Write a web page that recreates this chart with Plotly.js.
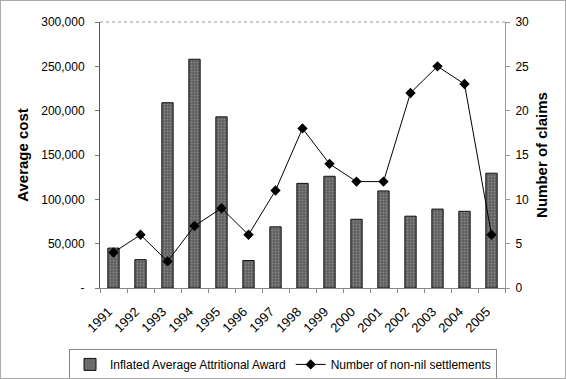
<!DOCTYPE html>
<html>
<head>
<meta charset="utf-8">
<script src="https://cdn.plot.ly/plotly-3.0.1.min.js"></script>
<style>
html,body{margin:0;padding:0;background:#fff;}
#chart{width:564px;height:377px;border:1px solid #aaa;}
</style>
</head>
<body>
<div id="chart"></div>
<script>
var years = ["1991","1992","1993","1994","1995","1996","1997","1998","1999","2000","2001","2002","2003","2004","2005"];
var avgAward = [45000, 32000, 209000, 258000, 193000, 31000, 69000, 118000, 126000, 77500, 109500, 81000, 89000, 86500, 129500];
var settlements = [4, 6, 3, 7, 9, 6, 11, 18, 14, 12, 12, 22, 25, 23, 6];
var leftTickVals = [0, 50000, 100000, 150000, 200000, 250000, 300000];
var leftTickText = ["-", "50,000", "100,000", "150,000", "200,000", "250,000", "300,000"];
var rightTickVals = [0, 5, 10, 15, 20, 25, 30];

var font = "Liberation Sans, Arial, sans-serif";

var traces = [
  {
    type: "bar",
    name: "Inflated Average Attritional Award",
    x: years,
    y: avgAward,
    width: 0.42,
    marker: {
      color: "#666",
      line: {color: "#111", width: 1},
      pattern: {shape: ".", fgcolor: "#858585", bgcolor: "#606060", size: 3, solidity: 0.3}
    },
    yaxis: "y"
  },
  {
    type: "scatter",
    mode: "lines+markers",
    name: "Number of non-nil settlements",
    x: years,
    y: settlements,
    line: {color: "#000", width: 1},
    marker: {symbol: "diamond", size: 8, color: "#000"},
    cliponaxis: false,
    yaxis: "y2"
  }
];

var layout = {
  width: 564,
  height: 377,
  margin: {l: 99, r: 60, t: 21, b: 90, autoexpand: false},
  paper_bgcolor: "#fff",
  plot_bgcolor: "#fff",
  font: {family: font, size: 12, color: "#000"},
  showlegend: true,
  bargap: 0,
  xaxis: {
    type: "category",
    range: [-0.5, years.length - 0.5],
    tickangle: -45,
    tickfont: {family: font, size: 13},
    ticklabelstandoff: 10,
    ticklabelshift: -5,
    showline: true,
    linecolor: "#888",
    linewidth: 1,
    ticks: "outside",
    ticklen: 4,
    tickcolor: "#888",
    tickson: "boundaries",
    showgrid: false,
    zeroline: false
  },
  yaxis: {
    range: [0, 300000],
    tickvals: leftTickVals,
    ticktext: leftTickText,
    tickfont: {family: font, size: 12},
    ticklabelstandoff: 8,
    showline: true,
    linecolor: "#555",
    linewidth: 1,
    ticks: "outside",
    ticklen: 4,
    tickcolor: "#777",
    showgrid: false,
    zeroline: false,
    title: {text: "Average cost", font: {family: font, size: 15, color: "#000", weight: "bold"}, standoff: 8}
  },
  yaxis2: {
    overlaying: "y",
    side: "right",
    range: [0, 30],
    tickvals: rightTickVals,
    tickfont: {family: font, size: 12},
    ticklabelstandoff: 3,
    showline: true,
    linecolor: "#999",
    linewidth: 1,
    ticks: "outside",
    ticklen: 4,
    tickcolor: "#999",
    showgrid: false,
    zeroline: false,
    title: {text: "Number of claims", font: {family: font, size: 15, color: "#000", weight: "bold"}, standoff: 8}
  },
  legend: {
    orientation: "h",
    x: -0.0765,
    xanchor: "left",
    y: -0.229,
    yanchor: "top",
    bordercolor: "#888",
    borderwidth: 1,
    bgcolor: "#fff",
    font: {family: font, size: 12},
    itemwidth: 30,
    tracegroupgap: 0
  },
  shapes: [
    {type: "line", xref: "paper", yref: "paper", x0: 0, x1: 1, y0: 1, y1: 1, line: {color: "#999", width: 1, dash: "dot"}}
  ]
};

Plotly.newPlot("chart", traces, layout, {displayModeBar: false, staticPlot: true});
</script>
</body>
</html>
